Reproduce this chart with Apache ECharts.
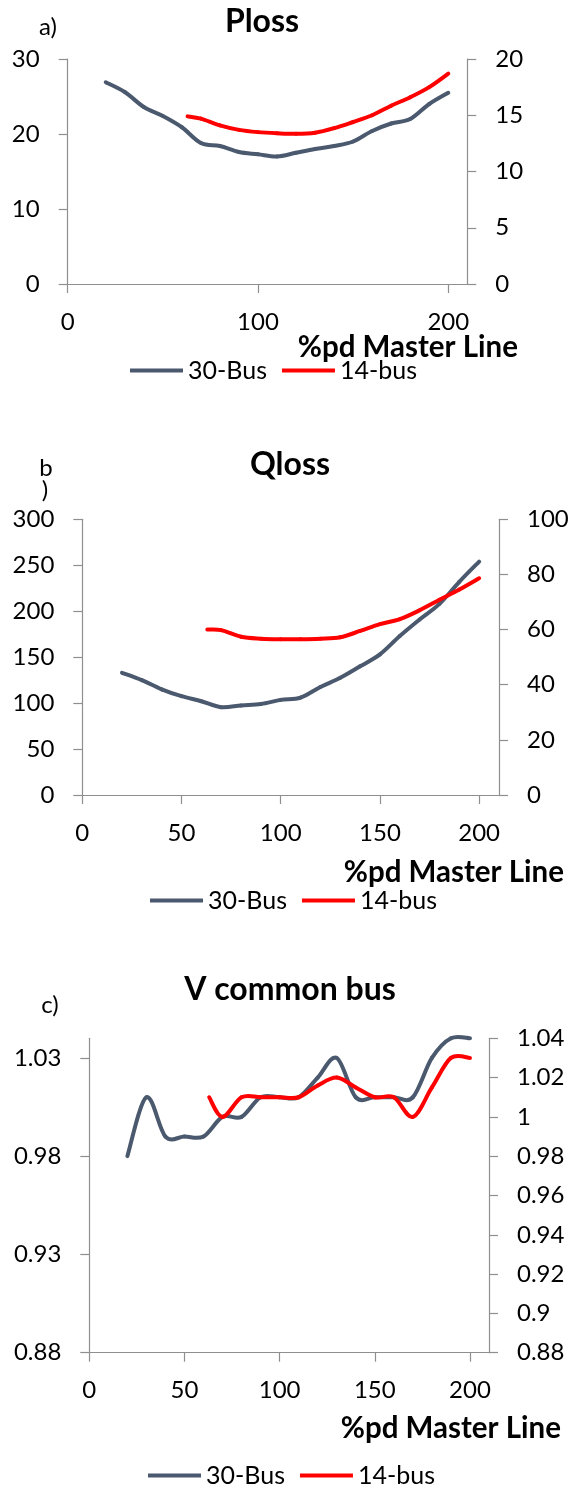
<!DOCTYPE html>
<html>
<head>
<meta charset="utf-8">
<script src="https://cdn.jsdelivr.net/npm/echarts@6/dist/echarts.min.js"></script>
<style>
  html, body { margin: 0; padding: 0; background: #ffffff; }
  #main { width: 573px; height: 1491px; }
</style>
</head>
<body>
<div id="main"></div>
<script>
// Load on the master line, % of pd
const xBus30 = [20, 30, 40, 50, 60, 70, 80, 90, 100, 110, 120, 130, 140, 150, 160, 170, 180, 190, 200];
const xBus14 = [63, 70, 80, 90, 100, 110, 120, 130, 140, 150, 160, 170, 180, 190, 200];

// a) active power losses
const plossBus30 = [26.9, 25.6, 23.6, 22.4, 20.9, 18.8, 18.4, 17.6, 17.3, 17.0, 17.5, 18.0, 18.4, 19.0, 20.4, 21.4, 22.0, 24.0, 25.5];
const plossBus14 = [14.9, 14.7, 14.1, 13.7, 13.5, 13.4, 13.35, 13.45, 13.85, 14.4, 15.0, 15.85, 16.6, 17.5, 18.7];

// b) reactive power losses
const qlossBus30 = [133, 125, 115, 107.5, 102, 95.5, 97.5, 99, 103.5, 106, 117.5, 127.5, 140, 153, 173, 191, 208, 232, 254];
const qlossBus14 = [60, 59.8, 57.4, 56.7, 56.5, 56.5, 56.7, 57.2, 59.5, 62, 63.8, 67, 70.8, 74.5, 78.6];

// c) voltage at the common bus
const vBus30 = [0.98, 1.01, 0.99, 0.99, 0.99, 1.00, 1.00, 1.01, 1.01, 1.01, 1.02, 1.03, 1.01, 1.01, 1.01, 1.01, 1.03, 1.04, 1.04];
const vBus14 = [1.01, 1.00, 1.01, 1.01, 1.01, 1.01, 1.016, 1.02, 1.015, 1.01, 1.01, 1.00, 1.015, 1.03, 1.03];

// Axis ticks
const xTicksA = [0, 100, 200];
const xTicksBC = [0, 50, 100, 150, 200];
const vLeftTicks = [0.88, 0.93, 0.98, 1.03];

const FONT = 'Lato, "Open Sans", sans-serif';
const GRAY = '#8f8f8f';
const COLOR_30 = '#4b596e';
const COLOR_14 = '#ff0000';

const pairs = (xs, ys) => xs.map((x, i) => [x, ys[i]]);
const fmt = v => String(+(+v).toFixed(2));

function xAxis(gridIndex, ticks) {
  return {
    type: 'value', gridIndex, min: 0, max: 210,
    axisLine: { show: true, lineStyle: { color: GRAY, width: 1.2 } },
    axisTick: { show: true, inside: false, length: 9, customValues: ticks, lineStyle: { color: GRAY, width: 1.2 } },
    axisLabel: { customValues: ticks, margin: 26, fontFamily: FONT, fontSize: 24, color: '#000' },
    splitLine: { show: false }
  };
}

function yAxis(gridIndex, position, min, max, interval, extra) {
  const ax = {
    type: 'value', gridIndex, position, min, max, interval,
    axisLine: { show: true, lineStyle: { color: GRAY, width: 1.2 } },
    axisTick: { show: true, inside: false, length: 9, lineStyle: { color: GRAY, width: 1.2 } },
    axisLabel: { margin: 28, fontFamily: FONT, fontSize: 24, color: '#000', formatter: fmt },
    splitLine: { show: false }
  };
  if (extra) {
    Object.assign(ax.axisTick, extra.axisTick || {});
    Object.assign(ax.axisLabel, extra.axisLabel || {});
  }
  return ax;
}

// Smoothed curve through the points: each segment is a cubic Bezier whose
// control points follow the neighbouring points (Catmull-Rom style, 1/6 factor).
function smoothLine(name, color, xAxisIndex, yAxisIndex, data) {
  return {
    name, type: 'custom', coordinateSystem: 'cartesian2d',
    xAxisIndex, yAxisIndex, data,
    encode: { x: 0, y: 1 },
    itemStyle: { color },
    z: name === '14-bus' ? 3 : 2,
    renderItem(params, api) {
      const i = params.dataIndexInside;
      const n = params.dataInsideLength;
      if (i >= n - 1) return null;
      const pt = k => api.coord([api.value(0, k), api.value(1, k)]);
      const p1 = pt(i), p2 = pt(i + 1);
      const p0 = i > 0 ? pt(i - 1) : p1;
      const p3 = i + 2 < n ? pt(i + 2) : p2;
      return {
        type: 'bezierCurve',
        silent: true,
        shape: {
          x1: p1[0], y1: p1[1], x2: p2[0], y2: p2[1],
          cpx1: p1[0] + (p2[0] - p0[0]) / 6, cpy1: p1[1] + (p2[1] - p0[1]) / 6,
          cpx2: p2[0] - (p3[0] - p1[0]) / 6, cpy2: p2[1] - (p3[1] - p1[1]) / 6
        },
        style: { stroke: color, fill: 'none', lineWidth: 4, lineCap: 'round' }
      };
    }
  };
}

function legend(left, top) {
  return {
    left, top, padding: 0, orient: 'horizontal',
    icon: 'rect', itemWidth: 53, itemHeight: 4, itemGap: 15,
    textStyle: { fontFamily: FONT, fontSize: 25, lineHeight: 24, color: '#000' },
    selectedMode: false
  };
}

function label(x, y, text, size, bold, align) {
  return {
    type: 'text', x, y, silent: true,
    style: {
      text, fill: '#000',
      font: (bold ? 'bold ' : '') + size + 'px ' + FONT,
      align: align || 'center', verticalAlign: 'middle'
    }
  };
}

const chart = echarts.init(document.getElementById('main'), null, { renderer: 'canvas' });

chart.setOption({
  animation: false,
  backgroundColor: '#ffffff',
  grid: [
    { left: 67.7, top: 59, width: 399.6, height: 225, outerBoundsMode: 'none' },
    { left: 82.3, top: 519.3, width: 416.7, height: 275.7, outerBoundsMode: 'none' },
    { left: 89.3, top: 1038.3, width: 399.7, height: 314.4, outerBoundsMode: 'none' }
  ],
  xAxis: [
    xAxis(0, xTicksA),
    xAxis(1, xTicksBC),
    xAxis(2, xTicksBC)
  ],
  yAxis: [
    yAxis(0, 'left', 0, 30, 10),
    yAxis(0, 'right', 0, 20, 5),
    yAxis(1, 'left', 0, 300, 50),
    yAxis(1, 'right', 0, 100, 20),
    yAxis(2, 'left', 0.88, 1.04, 0.01, {
      axisTick: { customValues: vLeftTicks },
      axisLabel: { customValues: vLeftTicks }
    }),
    yAxis(2, 'right', 0.88, 1.04, 0.02)
  ],
  legend: [
    legend(130, 358),
    legend(150, 888),
    legend(148, 1463)
  ],
  series: [
    smoothLine('30-Bus', COLOR_30, 0, 0, pairs(xBus30, plossBus30)),
    smoothLine('14-bus', COLOR_14, 0, 1, pairs(xBus14, plossBus14)),
    smoothLine('30-Bus', COLOR_30, 1, 2, pairs(xBus30, qlossBus30)),
    smoothLine('14-bus', COLOR_14, 1, 3, pairs(xBus14, qlossBus14)),
    smoothLine('30-Bus', COLOR_30, 2, 4, pairs(xBus30, vBus30)),
    smoothLine('14-bus', COLOR_14, 2, 5, pairs(xBus14, vBus14))
  ],
  graphic: [
    label(48, 27, 'a)', 24, false),
    label(262, 22, 'Ploss', 32, true),
    label(518, 347, '%pd Master Line', 29.5, true, 'right'),

    label(46, 468, 'b', 24, false),
    label(45, 490, ')', 24, false),
    label(290, 465, 'Qloss', 32, true),
    label(564, 872, '%pd Master Line', 29.5, true, 'right'),

    label(50, 1005, 'c)', 24, false),
    label(290, 990, 'V common bus', 32, true),
    label(561, 1428, '%pd Master Line', 29.5, true, 'right')
  ]
});
</script>
</body>
</html>
